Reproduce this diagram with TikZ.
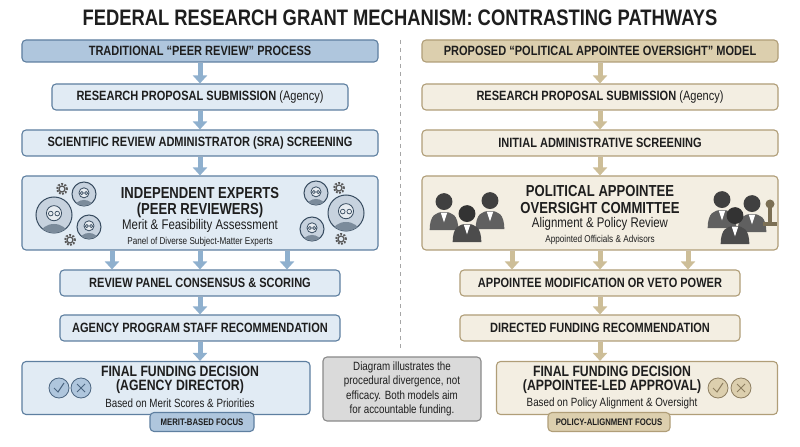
\documentclass[tikz,border=0pt]{standalone}
\usepackage{fontspec}
\setmainfont{Liberation Sans}[FakeStretch=0.82]
\usetikzlibrary{arrows.meta}
\definecolor{lbF}{HTML}{E1EBF4}\definecolor{lbD}{HTML}{5E7FA0}\definecolor{lbH}{HTML}{AFC6DD}\definecolor{lbA}{HTML}{8FB0CE}
\definecolor{rbF}{HTML}{F3EEE2}\definecolor{rbD}{HTML}{B09E78}\definecolor{rbH}{HTML}{DCCFAE}\definecolor{rbA}{HTML}{CDBE98}
\definecolor{txt}{HTML}{1E1E1E}\definecolor{gyF}{HTML}{DADADA}\definecolor{gyD}{HTML}{8A8A8A}
\tikzset{
 box/.style={rounded corners=4bp,line width=1.1bp,inner sep=0pt,text=txt,align=center},
 L/.style={box,draw=lbD,fill=lbF},R/.style={box,draw=rbD,fill=rbF},
 LH/.style={box,draw=lbD,fill=lbH},RH/.style={box,draw=rbD,fill=rbH},
 t/.style={font=\bfseries\fontsize{13.5}{15}\selectfont},
 ln/.style={inner sep=0pt,text=txt},
 bigb/.style={ln,font=\bfseries\fontsize{16}{17}\selectfont},
 midt/.style={ln,font=\fontsize{14}{16}\selectfont},
 smt/.style={ln,font=\fontsize{10}{12}\selectfont},
 finb/.style={ln,font=\bfseries\fontsize{15}{16}\selectfont},
 fins/.style={ln,font=\fontsize{12}{14}\selectfont},
 arL/.style={draw=lbA,line width=5bp,-{Triangle[width=14bp,length=8bp]}},
 arR/.style={draw=rbA,line width=5bp,-{Triangle[width=14bp,length=8bp]}},
}
\newcommand\expface[4]{% x y r color
 \begin{scope}[shift={(#1,#2)}]
 \fill[#4!35!white,draw=#4!60!black,line width=1bp](0,0) circle(#3);
 \begin{scope}\clip(0,0) circle(#3);
 \fill[#4!70!black!70!white](0,{#3*1.05}) ellipse({#3*0.75} and {#3*0.55});
 \fill[#4!15!white,draw=#4!60!black,line width=0.8bp](0,{-#3*0.1}) circle({#3*0.42});
 \end{scope}
 \draw[#4!60!black,line width=0.7bp](-{#3*0.18},{-#3*0.08}) circle({#3*0.13}) ({#3*0.18},{-#3*0.08}) circle({#3*0.13});
 \end{scope}}
\newcommand\gearI[2]{\draw[gray!70!black,line width=2bp,dash pattern=on 1.8bp off 1.5bp](#1,#2) circle(5bp);\draw[gray!70!black,line width=1.2bp](#1,#2) circle(3bp);}
\newcommand\suit[4]{% x y scale color
 \begin{scope}[shift={(#1,#2)},scale=#3]
 \fill[#4!75!black](-11,14) .. controls (-11,2) and (-6,0) .. (0,0) .. controls (6,0) and (11,2) .. (11,14) -- cycle;
 \fill[white](-2.5,0.5) -- (2.5,0.5) -- (0,8) -- cycle;
 \fill[#4!50!black](0,-8) circle(6.5);
 \end{scope}}
\begin{document}
\begin{tikzpicture}[x=1bp,y=-1bp]
\useasboundingbox (0,0) rectangle (800,447);
\fill[white](0,0) rectangle (800,447);
\node[font=\bfseries\fontsize{22.5}{24}\selectfont,text=txt] (title) at (400,18) {FEDERAL RESEARCH GRANT MECHANISM: CONTRASTING PATHWAYS};
\draw[gray!70,line width=1bp,dash pattern=on 4bp off 4bp] (400,40) -- (400,352);
% left
\node[LH,t,minimum width=356bp,minimum height=22bp] (l1) at (200,51) {TRADITIONAL “PEER REVIEW” PROCESS};
\node[L,t,minimum width=296bp,minimum height=26bp] (l2) at (200,97) {RESEARCH PROPOSAL SUBMISSION \textmd{(Agency)}};
\node[L,t,minimum width=356bp,minimum height=26bp] (l3) at (200,143) {SCIENTIFIC REVIEW ADMINISTRATOR (SRA) SCREENING};
\node[L,minimum width=356bp,minimum height=74bp] (l4) at (200,213) {};
\node[L,t,minimum width=280bp,minimum height=26bp] (l5) at (200,283) {REVIEW PANEL CONSENSUS \& SCORING};
\node[L,t,minimum width=280bp,minimum height=26bp] (l6) at (200,328) {AGENCY PROGRAM STAFF RECOMMENDATION};
\node[L,minimum width=288bp,minimum height=53bp] (l7) at (166,388) {};
\node[box,draw=lbD,fill=lbH,minimum width=104bp,minimum height=19bp,font=\bfseries\fontsize{9.5}{10}\selectfont] (lt) at (202,422) {MERIT-BASED FOCUS};
\node[bigb] (l4a) at (200,193) {INDEPENDENT EXPERTS};
\node[bigb] (l4b) at (200,210) {(PEER REVIEWERS)};
\node[midt] (l4c) at (200,226) {Merit \& Feasibility Assessment};
\node[smt] (l4d) at (200,242) {Panel of Diverse Subject-Matter Experts};
\node[finb] (l7a) at (180,371) {FINAL FUNDING DECISION};
\node[finb] (l7b) at (180,387) {(AGENCY DIRECTOR)};
\node[fins] (l7c) at (180,403) {Based on Merit Scores \& Priorities};
\draw[arL](l1)--(l2);\draw[arL](l2)--(l3);\draw[arL](l3)--(l4);
\draw[arL]([xshift=-88bp]l4.south)--([xshift=-88bp]l5.north-|l4.south);
\draw[arL](l4.south)--(l5.north);
\draw[arL]([xshift=87bp]l4.south)--([xshift=87bp]l5.north-|l4.south);
\draw[arL](l5)--(l6);\draw[arL](l6.south)--(l6.south|-l7.north);
\expface{54}{215}{18}{lbD}\expface{84}{194}{12}{lbD}\expface{89}{227}{12}{lbD}
\gearI{62}{189}\gearI{70}{240}
\expface{346}{213}{18}{lbD}\expface{316}{193}{12}{lbD}\expface{312}{229}{12}{lbD}
\gearI{339}{188}\gearI{341}{239}
\draw[lbD!80!black,fill=lbH,line width=0.8bp](59,388) circle(10bp);\draw[lbD!80!black,line width=1bp](54,388)--(58,392)--(64,383);
\draw[lbD!80!black,fill=lbH,line width=0.8bp](81,388) circle(10bp);\draw[lbD!80!black,line width=1bp](77,384)--(85,392)(85,384)--(77,392);
% note
\node[box,draw=gyD,fill=gyF,minimum width=158bp,minimum height=64bp,font=\fontsize{12}{14.5}\selectfont] (note) at (402,389) {Diagram illustrates the\\procedural divergence, not\\efficacy. Both models aim\\for accountable funding.};
% right
\node[RH,t,minimum width=356bp,minimum height=22bp] (r1) at (600,51) {PROPOSED “POLITICAL APPOINTEE OVERSIGHT” MODEL};
\node[R,t,minimum width=356bp,minimum height=26bp] (r2) at (600,97) {RESEARCH PROPOSAL SUBMISSION \textmd{(Agency)}};
\node[R,t,minimum width=356bp,minimum height=26bp] (r3) at (600,143) {INITIAL ADMINISTRATIVE SCREENING};
\node[R,minimum width=356bp,minimum height=74bp] (r4) at (600,213) {};
\node[R,t,minimum width=280bp,minimum height=26bp] (r5) at (600,283) {APPOINTEE MODIFICATION OR VETO POWER};
\node[R,t,minimum width=280bp,minimum height=26bp] (r6) at (600,328) {DIRECTED FUNDING RECOMMENDATION};
\node[R,minimum width=281bp,minimum height=53bp] (r7) at (637,388) {};
\node[box,draw=rbD,fill=rbH,minimum width=122bp,minimum height=19bp,font=\bfseries\fontsize{9.5}{10}\selectfont] (rt) at (609,422) {POLICY-ALIGNMENT FOCUS};
\node[bigb] (r4a) at (600,191) {POLITICAL APPOINTEE};
\node[bigb] (r4b) at (600,208) {OVERSIGHT COMMITTEE};
\node[midt] (r4c) at (600,224) {Alignment \& Policy Review};
\node[smt] (r4d) at (600,240) {Appointed Officials \& Advisors};
\node[finb] (r7a) at (612,371) {FINAL FUNDING DECISION};
\node[finb] (r7b) at (612,387) {(APPOINTEE-LED APPROVAL)};
\node[fins] (r7c) at (612,403) {Based on Policy Alignment \& Oversight};
\draw[arR](r1)--(r2);\draw[arR](r2)--(r3);\draw[arR](r3)--(r4);
\draw[arR]([xshift=-88bp]r4.south)--([xshift=-88bp]r5.north-|r4.south);
\draw[arR](r4.south)--(r5.north);
\draw[arR]([xshift=88bp]r4.south)--([xshift=88bp]r5.north-|r4.south);
\draw[arR](r5)--(r6);\draw[arR](r6.south)--(r6.south|-r7.north);
\suit{444}{212}{1.3}{gray}\suit{490}{211}{1.3}{gray}\suit{467}{224}{1.3}{gray!80!black}
\suit{722}{210}{1.3}{gray}\suit{752}{214}{1.3}{gray}\suit{735}{226}{1.3}{gray!80!black}
\fill[rbD!70!black](763,222) rectangle (777,226);\fill[rbD!70!black](768,207) rectangle (772,222);\fill[rbD!70!black](770,204) circle(4.5bp);
\draw[rbD!80!black,fill=rbH,line width=0.8bp](718,388) circle(10bp);\draw[rbD!80!black,line width=1bp](713,388)--(717,392)--(723,383);
\draw[rbD!80!black,fill=rbH,line width=0.8bp](741,388) circle(10bp);\draw[rbD!80!black,line width=1bp](737,384)--(745,392)(745,384)--(737,392);
\end{tikzpicture}
\end{document}
